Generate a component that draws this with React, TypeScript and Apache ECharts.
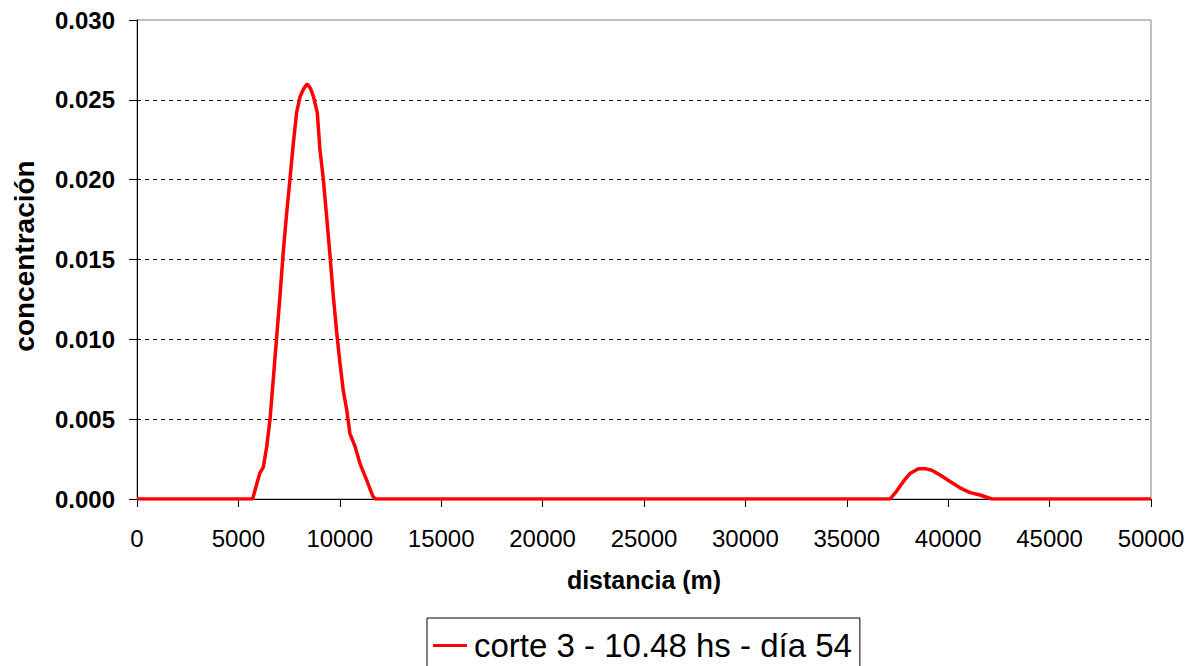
import React, { useEffect, useRef } from "react";
import * as echarts from "echarts";

const distance: number[] = [
  0, 5000, 5700, 6050, 6230, 6400, 6560, 6720, 6890, 7050, 7220, 7380, 7540, 7710, 7870, 8040, 8220,
  8400, 8560, 8700, 8890, 9020, 9190, 9350, 9520, 9680, 9850, 10010, 10170, 10340, 10500, 10750,
  11000, 11320, 11620, 11750, 15000, 20000, 25000, 30000, 35000, 37130, 37460, 37790, 38120, 38530,
  38860, 39190, 39600, 40090, 40580, 41080, 41570, 42150, 45000, 50000,
];
const concentration: number[] = [
  0, 0, 0, 0.0016, 0.002, 0.0033, 0.005, 0.0075, 0.0102, 0.0127, 0.0156, 0.0179, 0.02, 0.0223,
  0.0242, 0.0252, 0.0257, 0.026, 0.0257, 0.0252, 0.0242, 0.0219, 0.02, 0.0177, 0.0152, 0.0127,
  0.0104, 0.0085, 0.0068, 0.0056, 0.0041, 0.0033, 0.0022, 0.0012, 0.0002, 0, 0, 0, 0, 0, 0, 0,
  0.0005, 0.0011, 0.0016, 0.0019, 0.0019, 0.0018, 0.0015, 0.0011, 0.0007, 0.0004, 0.00025, 0, 0, 0,
];
const seriesName = "corte 3 - 10.48 hs - día 54";
const xTitle = "distancia (m)";
const yTitle = "concentración";

const FONT = "'Liberation Sans', Arial, sans-serif";

export default function App() {
  const ref = useRef<HTMLDivElement>(null);
  useEffect(() => {
    if (!ref.current) return;
    const chart = echarts.init(ref.current, undefined, { renderer: "svg" });
    const data = distance.map((d, i) => [d, concentration[i]]);
    chart.setOption({
      animation: false,
      backgroundColor: "#ffffff",
      textStyle: { fontFamily: FONT },
      grid: {
        left: 137,
        right: 52,
        top: 20,
        bottom: 167,
        show: true,
        borderColor: "#808080",
        borderWidth: 1,
        backgroundColor: "#ffffff",
      },
      xAxis: {
        type: "value",
        min: 0,
        max: 50000,
        interval: 5000,
        axisLine: { show: true, lineStyle: { color: "#000", width: 1 } },
        axisTick: { show: true, length: 8, lineStyle: { color: "#000" } },
        axisLabel: {
          color: "#000",
          fontSize: 24,
          margin: 27,
          fontFamily: FONT,
          formatter: (v: number) => String(v),
        },
        splitLine: { show: false },
      },
      yAxis: {
        type: "value",
        min: 0,
        max: 0.03,
        interval: 0.005,
        axisLine: { show: true, lineStyle: { color: "#000", width: 1 } },
        axisTick: { show: true, length: 8, lineStyle: { color: "#000" } },
        axisLabel: {
          color: "#000",
          fontSize: 24,
          fontWeight: "bold",
          margin: 22,
          fontFamily: FONT,
          formatter: (v: number) => v.toFixed(3),
        },
        splitLine: {
          show: true,
          showMinLine: false,
          showMaxLine: false,
          lineStyle: { color: "#000", type: [4, 4], width: 1 },
        },
      },
      legend: {
        show: true,
        left: 427,
        top: 618,
        orient: "horizontal",
        borderColor: "#000",
        borderWidth: 1,
        padding: [11, 8, 12, 6],
        icon: "rect",
        itemWidth: 34,
        itemHeight: 3,
        itemGap: 10,
        textStyle: { fontSize: 33, color: "#000", fontFamily: FONT, padding: [0, 0, 0, 2] },
        data: [seriesName],
      },
      graphic: [
        {
          type: "text",
          x: 644,
          y: 580,
          style: {
            text: xTitle,
            fontSize: 25,
            fontWeight: "bold",
            fontFamily: FONT,
            fill: "#000",
            align: "center",
            verticalAlign: "middle",
          },
        },
        {
          type: "text",
          x: 24,
          y: 256,
          rotation: Math.PI / 2,
          style: {
            text: yTitle,
            fontSize: 28,
            fontWeight: "bold",
            fontFamily: FONT,
            fill: "#000",
            align: "center",
            verticalAlign: "middle",
          },
        },
      ],
      series: [
        {
          name: seriesName,
          type: "line",
          data,
          showSymbol: false,
          symbol: "none",
          color: "#ff0000",
          lineStyle: { color: "#ff0000", width: 3.5 },
          z: 3,
        },
      ],
    });
    return () => chart.dispose();
  }, []);
  return (
    <div
      ref={ref}
      style={{ position: "fixed", left: 0, top: 0, width: 1203, height: 666, background: "#fff" }}
    />
  );
}
